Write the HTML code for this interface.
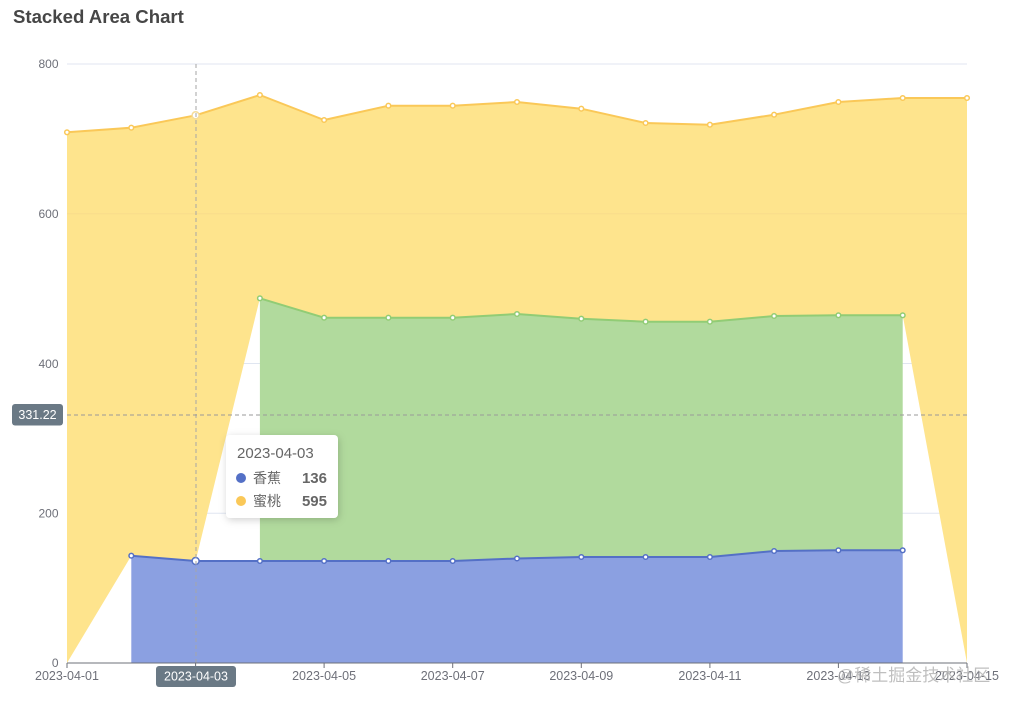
<!DOCTYPE html>
<html>
<head>
<meta charset="utf-8">
<style>
html,body{margin:0;padding:0;background:#fff;}
svg{display:block;font-family:"Liberation Sans","Noto Sans CJK SC",sans-serif;}
</style>
</head>
<body>
<svg width="1017" height="705" viewBox="0 0 1017 705" xmlns="http://www.w3.org/2000/svg">
<defs>
<filter id="sh" x="-20%" y="-20%" width="140%" height="150%">
<feDropShadow dx="1" dy="2" stdDeviation="4" flood-color="#000" flood-opacity="0.18"/>
</filter>
</defs>
<rect width="1017" height="705" fill="#fff"/>
<text x="13" y="23" font-size="18.6" font-weight="bold" fill="#464646">Stacked Area Chart</text>

<!-- grid -->
<g stroke="#e0e6f1" stroke-width="1">
<line x1="67" y1="64" x2="967" y2="64"/>
<line x1="67" y1="213.7" x2="967" y2="213.7"/>
<line x1="67" y1="363.5" x2="967" y2="363.5"/>
<line x1="67" y1="513.3" x2="967" y2="513.3"/>
</g>
<g font-size="12" fill="#6e7079" text-anchor="end">
<text x="58.5" y="68">800</text>
<text x="58.5" y="218">600</text>
<text x="58.5" y="368">400</text>
<text x="58.5" y="517.5">200</text>
<text x="58.5" y="667">0</text>
</g>

<!-- areas -->
<polygon fill="#fee48d" points="67,132.3 131.3,127.7 195.6,115.3 259.9,95 324.1,120 388.4,105.7 452.7,105.7 517,102 581.3,108.7 645.6,123 709.9,124.7 774.1,114.7 838.4,102 902.7,98 967,98 967,663 902.7,315.3 838.4,315.3 774.1,316 709.9,321.7 645.6,321.7 581.3,318.7 517,314 452.7,317.7 388.4,317.7 324.1,317.7 259.9,298.3 195.6,561 131.3,555.7 67,663"/>
<polygon fill="#b1da9d" points="259.9,298.3 324.1,317.7 388.4,317.7 452.7,317.7 517,314 581.3,318.7 645.6,321.7 709.9,321.7 774.1,316 838.4,315.3 902.7,315.3 902.7,550.3 838.4,550.3 774.1,551 709.9,557 645.6,557 581.3,557 517,558.5 452.7,561 388.4,561 324.1,561 259.9,561"/>
<polygon fill="#8ba0e1" points="131.3,555.7 195.6,561 259.9,561 324.1,561 388.4,561 452.7,561 517,558.5 581.3,557 645.6,557 709.9,557 774.1,551 838.4,550.3 902.7,550.3 902.7,663 131.3,663"/>
<line x1="67" y1="213.7" x2="967" y2="213.7" stroke="#f6d98a" stroke-width="1" opacity="0.6"/>

<!-- lines -->
<polyline fill="none" stroke="#fac858" stroke-width="2" stroke-linejoin="round" points="67,132.3 131.3,127.7 195.6,115.3 259.9,95 324.1,120 388.4,105.7 452.7,105.7 517,102 581.3,108.7 645.6,123 709.9,124.7 774.1,114.7 838.4,102 902.7,98 967,98"/>
<polyline fill="none" stroke="#91cc75" stroke-width="2" stroke-linejoin="round" points="259.9,298.3 324.1,317.7 388.4,317.7 452.7,317.7 517,314 581.3,318.7 645.6,321.7 709.9,321.7 774.1,316 838.4,315.3 902.7,315.3"/>
<polyline fill="none" stroke="#5470c6" stroke-width="2" stroke-linejoin="round" points="131.3,555.7 195.6,561 259.9,561 324.1,561 388.4,561 452.7,561 517,558.5 581.3,557 645.6,557 709.9,557 774.1,551 838.4,550.3 902.7,550.3"/>

<!-- symbols -->
<g fill="#fff" stroke="#fac858" stroke-width="1.5">
<circle cx="67" cy="132.3" r="2.3"/><circle cx="131.3" cy="127.7" r="2.3"/><circle cx="259.9" cy="95" r="2.3"/><circle cx="324.1" cy="120" r="2.3"/><circle cx="388.4" cy="105.7" r="2.3"/><circle cx="452.7" cy="105.7" r="2.3"/><circle cx="517" cy="102" r="2.3"/><circle cx="581.3" cy="108.7" r="2.3"/><circle cx="645.6" cy="123" r="2.3"/><circle cx="709.9" cy="124.7" r="2.3"/><circle cx="774.1" cy="114.7" r="2.3"/><circle cx="838.4" cy="102" r="2.3"/><circle cx="902.7" cy="98" r="2.3"/><circle cx="967" cy="98" r="2.3"/>
<circle cx="195.6" cy="115.3" r="3.5" stroke="#f5dc9a"/>
</g>
<g fill="#fff" stroke="#91cc75" stroke-width="1.5">
<circle cx="259.9" cy="298.3" r="2.3"/><circle cx="324.1" cy="317.7" r="2.3"/><circle cx="388.4" cy="317.7" r="2.3"/><circle cx="452.7" cy="317.7" r="2.3"/><circle cx="517" cy="314" r="2.3"/><circle cx="581.3" cy="318.7" r="2.3"/><circle cx="645.6" cy="321.7" r="2.3"/><circle cx="709.9" cy="321.7" r="2.3"/><circle cx="774.1" cy="316" r="2.3"/><circle cx="838.4" cy="315.3" r="2.3"/><circle cx="902.7" cy="315.3" r="2.3"/>
</g>
<g fill="#fff" stroke="#5470c6" stroke-width="1.5">
<circle cx="131.3" cy="555.7" r="2.3"/><circle cx="259.9" cy="561" r="2.3"/><circle cx="324.1" cy="561" r="2.3"/><circle cx="388.4" cy="561" r="2.3"/><circle cx="452.7" cy="561" r="2.3"/><circle cx="517" cy="558.5" r="2.3"/><circle cx="581.3" cy="557" r="2.3"/><circle cx="645.6" cy="557" r="2.3"/><circle cx="709.9" cy="557" r="2.3"/><circle cx="774.1" cy="551" r="2.3"/><circle cx="838.4" cy="550.3" r="2.3"/><circle cx="902.7" cy="550.3" r="2.3"/>
<circle cx="195.6" cy="561" r="3.5"/>
</g>

<!-- crosshair -->
<line x1="196" y1="64" x2="196" y2="663" stroke="#a6a6a6" stroke-width="1" stroke-dasharray="4,3"/>
<line x1="67" y1="415" x2="967" y2="415" stroke="#999" stroke-width="1" stroke-dasharray="4,3"/>

<!-- x axis -->
<line x1="67" y1="663" x2="967" y2="663" stroke="#6e7079" stroke-width="1"/>
<g stroke="#6e7079" stroke-width="1">
<line x1="67" y1="663" x2="67" y2="668"/><line x1="195.6" y1="663" x2="195.6" y2="668"/><line x1="324.1" y1="663" x2="324.1" y2="668"/><line x1="452.7" y1="663" x2="452.7" y2="668"/><line x1="581.3" y1="663" x2="581.3" y2="668"/><line x1="709.9" y1="663" x2="709.9" y2="668"/><line x1="838.4" y1="663" x2="838.4" y2="668"/><line x1="967" y1="663" x2="967" y2="668"/>
</g>
<g font-size="12.5" fill="#6e7079" text-anchor="middle">
<text x="67" y="680">2023-04-01</text>
<text x="324.1" y="680">2023-04-05</text>
<text x="452.7" y="680">2023-04-07</text>
<text x="581.3" y="680">2023-04-09</text>
<text x="709.9" y="680">2023-04-11</text>
<text x="838.4" y="680">2023-04-13</text>
<text x="967" y="680">2023-04-15</text>
</g>
<text x="837" y="681" font-size="17" fill="#b5b5b5" opacity="0.85">@稀土掘金技术社区</text>

<!-- axis pointer labels -->
<rect x="156" y="666" width="80" height="21" rx="3" fill="#6a7985"/>
<text x="196" y="680.5" font-size="12.5" fill="#fff" text-anchor="middle">2023-04-03</text>
<rect x="12" y="404" width="51" height="21.5" rx="3" fill="#6a7985"/>
<text x="37.5" y="419" font-size="12.5" fill="#fff" text-anchor="middle">331.22</text>

<!-- tooltip -->
<rect x="226" y="435" width="112" height="83" rx="4" fill="#fff" filter="url(#sh)"/>
<text x="237" y="458" font-size="15" fill="#666">2023-04-03</text>
<circle cx="241" cy="478" r="5" fill="#5470c6"/>
<text x="253" y="483" font-size="14" fill="#666">香蕉</text>
<text x="327" y="483" font-size="15" font-weight="bold" fill="#666" text-anchor="end">136</text>
<circle cx="241" cy="501" r="5" fill="#fac858"/>
<text x="253" y="506" font-size="14" fill="#666">蜜桃</text>
<text x="327" y="506" font-size="15" font-weight="bold" fill="#666" text-anchor="end">595</text>
</svg>
</body>
</html>
